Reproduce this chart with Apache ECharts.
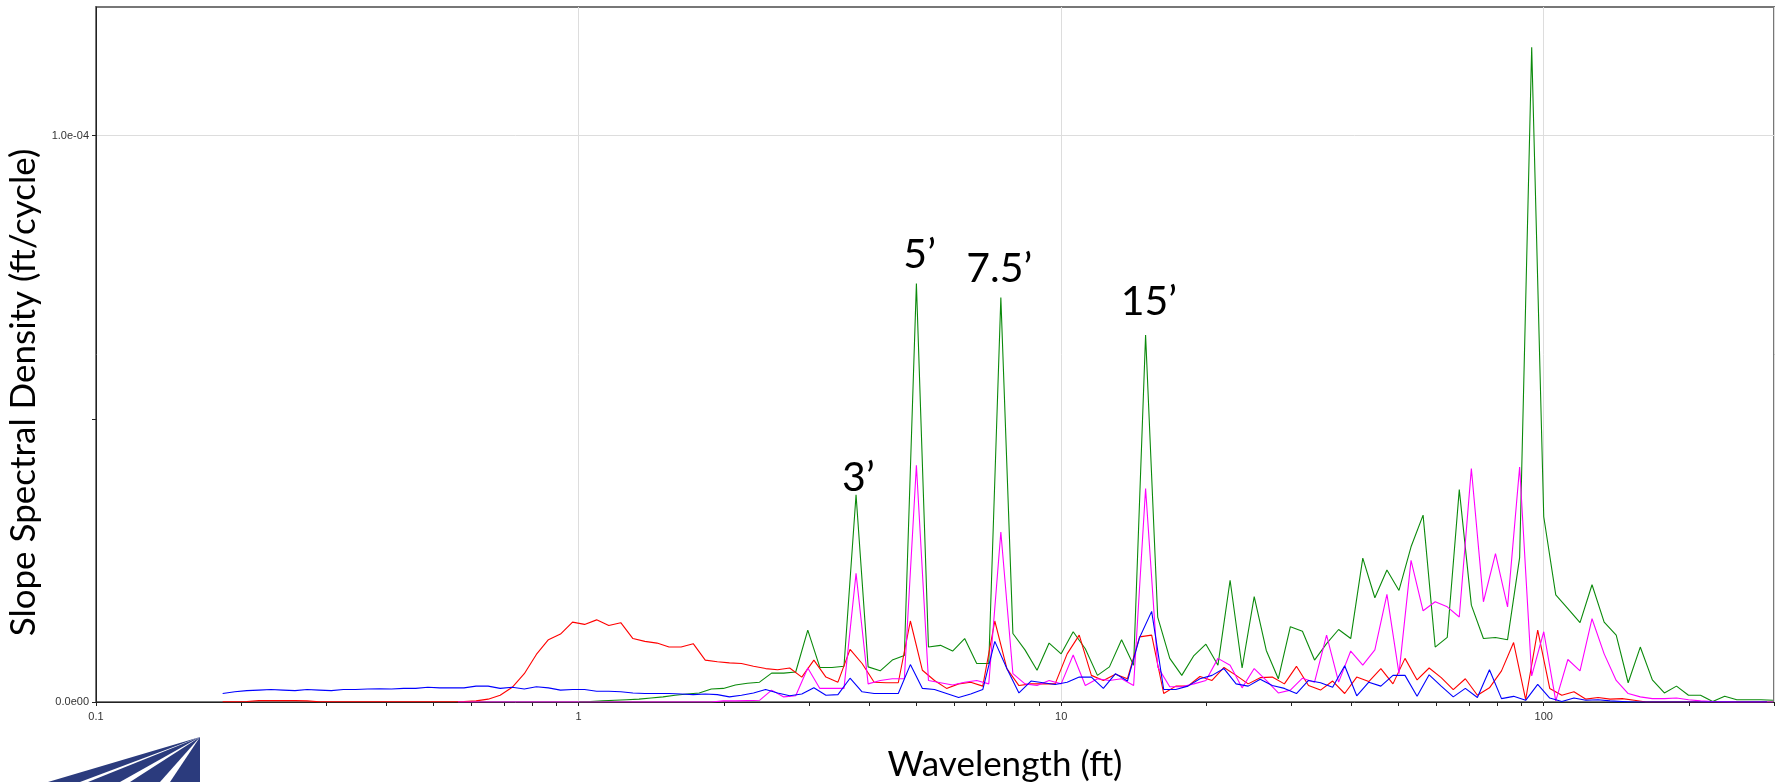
<!DOCTYPE html>
<html><head><meta charset="utf-8">
<script src="https://cdn.jsdelivr.net/npm/echarts@6/dist/echarts.min.js"></script>
<style>html,body{margin:0;padding:0;background:#fff}#c{width:1778px;height:782px}</style>
</head><body><div id="c"></div>
<script>
// Wavelengths (ft) of the red / blue spectra
const wavelengthRB = [
0.1830,0.1939,0.2054,0.2175,0.2304,0.2441,0.2585,0.2738,0.2901,0.3073,
0.3255,0.3447,0.3652,0.3868,0.4097,0.4340,0.4597,0.4870,0.5158,0.5464,
0.5788,0.6131,0.6494,0.6879,0.7286,0.7718,0.8175,0.8660,0.9173,0.9716,
1.029,1.090,1.155,1.223,1.296,1.372,1.454,1.540,1.631,1.728,
1.830,1.939,2.054,2.175,2.304,2.441,2.585,2.738,2.901,3.073,
3.255,3.447,3.652,3.868,4.097,4.340,4.597,4.870,5.158,5.464,
5.788,6.131,6.494,6.879,7.286,7.718,8.175,8.660,9.173,9.716,
10.29,10.90,11.55,12.23,12.96,13.72,14.54,15.40,16.31,17.28,
18.30,19.39,20.54,21.75,23.04,24.41,25.85,27.38,29.01,30.73,
32.55,34.47,36.52,38.68,40.97,43.40,45.97,48.70,51.58,54.64,
57.88,61.31,64.94,68.79,72.86,77.18,81.75,86.60,91.73,97.16,
102.9,109.0,115.5,122.3,129.6,137.2,145.4,154.0,163.1,172.8,
183.0,193.9,205.4,217.5,230.4,244.1,258.5,273.8,290.1];
// Wavelengths (ft) of the green / magenta spectra
const wavelengthGM = [
0.5623,0.5957,0.6310,0.6683,0.7079,0.7499,0.7943,0.8414,0.8913,0.9441,
1.000,1.059,1.122,1.189,1.259,1.334,1.413,1.496,1.585,1.679,
1.778,1.884,1.995,2.113,2.239,2.371,2.512,2.661,2.818,2.985,
3.162,3.350,3.548,3.758,3.981,4.217,4.467,4.732,5.012,5.309,
5.623,5.957,6.310,6.683,7.079,7.499,7.943,8.414,8.913,9.441,
10.00,10.59,11.22,11.89,12.59,13.34,14.13,14.96,15.85,16.79,
17.78,18.84,19.95,21.13,22.39,23.71,25.12,26.61,28.18,29.85,
31.62,33.50,35.48,37.58,39.81,42.17,44.67,47.32,50.12,53.09,
56.23,59.57,63.10,66.83,70.79,74.99,79.43,84.14,89.13,94.41,
100.0,105.9,112.2,118.9,125.9,133.4,141.3,149.6,158.5,167.9,
177.8,188.4,199.5,211.3,223.9,237.1,251.2,266.1,281.8,298.5];

// Slope spectral density, in units of 1e-6 ft/cycle
const red = [
0.05,0.05,0.1,0.25,0.25,0.25,0.25,0.2,0.05,
0.05,0.05,0.05,0.05,0.05,0.05,0.05,0.05,0.05,0.05,0.05,
0.1,0.2,0.5,1.2,2.6,5.0,8.4,11.0,12.0,14.1,
13.7,14.5,13.5,14.0,11.2,10.7,10.4,9.7,9.7,10.3,
7.4,7.1,6.9,6.8,6.3,5.9,5.7,6.0,4.4,7.4,
4.4,3.5,9.3,6.8,3.5,3.4,3.4,14.3,5.6,3.8,
2.4,3.2,3.5,2.8,14.3,5.9,2.9,3.2,3.2,3.2,
8.5,11.8,4.7,3.8,4.9,4.1,11.5,11.8,1.5,2.8,
2.8,4.5,3.8,6.1,4.7,3.2,4.3,4.4,3.2,6.3,
2.9,2.1,3.7,1.5,4.4,3.6,5.9,3.2,7.7,3.9,
6.0,4.3,2.2,4.1,1.2,2.5,5.5,10.5,0.4,12.7,
2.4,1.2,1.8,0.5,0.8,0.5,0.6,0.3,0,0,
0,0,0,0,0,0,0,0,0];
const blue = [
1.5,1.8,2.0,2.1,2.2,2.1,2.0,2.2,2.1,2.0,
2.2,2.2,2.3,2.35,2.3,2.4,2.4,2.6,2.5,2.5,
2.5,2.8,2.8,2.4,2.6,2.3,2.7,2.5,2.1,2.2,
2.2,1.9,1.9,1.8,1.6,1.5,1.5,1.5,1.4,1.3,
1.4,1.3,0.9,1.2,1.6,2.2,1.6,1.1,1.4,2.5,
1.2,1.3,4.2,1.8,1.5,1.5,1.5,6.6,2.4,2.2,
1.5,0.8,1.4,2.2,10.7,5.9,1.6,3.7,3.4,3.1,
3.5,4.4,4.4,2.4,5.0,3.7,11.4,16.0,2.2,2.2,
2.8,4.1,4.7,5.9,3.2,2.8,4.0,2.9,2.4,1.5,
3.8,3.4,2.6,6.4,1.1,3.5,2.8,4.7,4.7,1.0,
4.8,2.8,0.9,2.4,0.8,5.7,0.6,1.0,0.3,3.1,
0.7,0.1,0.7,0.3,0.4,0.2,0.1,0,0,0,
0,0,0,0,0,0,0,0,0];
// green starts at wavelengthGM[10] (1 ft)
const green = [
0.05,0.1,0.2,0.3,0.4,0.5,0.7,0.9,1.2,1.4,
1.6,2.3,2.4,3.0,3.3,3.5,5.1,5.1,5.3,12.7,
6.1,6.1,6.3,36.6,6.2,5.5,7.4,8.2,73.9,9.7,
10.0,9.0,11.2,6.8,6.8,71.4,12.1,9.2,5.6,10.4,
8.5,12.4,9.4,4.7,6.2,11.0,6.5,64.8,15.0,7.7,
4.7,8.2,10.2,6.5,21.5,6.0,18.6,9.1,4.1,13.3,
12.5,7.4,10.3,12.8,11.2,25.4,18.4,23.3,19.7,27.4,
33.0,9.7,11.4,37.5,17.1,11.2,11.4,11.0,25.5,115.6,
32.7,18.9,16.5,14.0,20.7,14.1,11.8,3.4,9.7,3.9,
1.6,2.8,1.2,1.2,0.1,1.0,0.4,0.4,0.4,0.3];
const magenta = [
0,0,0,0,0,0,0,0,0,0,
0,0,0,0,0,0,0,0,0,0,
0,0,0.2,0.2,0.25,0.3,2.1,0.9,1.1,6.0,
2.4,2.4,2.4,22.7,3.2,3.8,4.1,4.1,41.8,3.8,
3.4,3.0,3.5,3.8,3.2,30.0,5.0,3.2,2.9,3.8,
3.2,8.3,2.9,4.1,3.8,4.1,2.9,37.7,6.2,2.7,
2.7,3.2,3.8,7.7,6.5,2.5,5.9,3.8,1.6,2.1,
4.2,3.5,11.8,3.5,9.0,6.5,9.2,19.0,5.0,25.0,
16.1,17.7,16.8,15.0,41.2,17.7,26.2,16.8,41.5,4.6,
12.4,0.2,7.5,5.5,14.7,8.5,3.8,1.5,0.9,0.6,
0.6,0.7,0.4,0.2,0.1,0.05,0,0,0,0];

const xTickValues = [0.1, 1, 10, 100];
const xTickText = ['0.1', '1', '10', '100'];
const yTickValues = [0, 100];
const yTickText = ['0.0e00', '1.0e-04'];

const annText = ['3\u2019', '5\u2019', '7.5\u2019', '15\u2019'];
const annX = [3.80, 5.09, 7.44, 15.2];
const annY = [39.6, 79.0, 76.5, 70.7];

function pairs(xs, ys, offset) { return ys.map(function (v, i) { return [xs[i + offset], v]; }); }

const chart = echarts.init(document.getElementById('c'), null, {renderer: 'canvas'});
const tickFont = {fontFamily: 'Liberation Sans', fontSize: 11, color: '#333'};
function lineSeries(name, color, data, z) {
  return {name: name, type: 'line', data: data, symbol: 'none', z: z,
    lineStyle: {color: color, width: 1.1}, itemStyle: {color: color}, animation: false};
}
const greenSeries = lineSeries('green', '#0b8a0b', pairs(wavelengthGM, green, 10), 2);
greenSeries.markPoint = {
  symbol: 'circle', symbolSize: 1, silent: true, animation: false,
  itemStyle: {color: 'rgba(0,0,0,0)'},
  label: {show: true, position: 'inside', formatter: function (p) { return p.name; },
    fontFamily: 'Lato', fontSize: 41, color: '#000'},
  data: annText.map(function (t, i) { return {name: t, coord: [annX[i], annY[i]]}; })
};

const option = {
  backgroundColor: '#ffffff',
  animation: false,
  grid: {left: 96, right: 4, top: 7, bottom: 80, containLabel: false, outerBoundsMode: 'none',
    show: true, borderColor: '#777', borderWidth: 2, backgroundColor: 'transparent'},
  xAxis: {
    type: 'log', logBase: 10, min: 0.1, max: 300,
    name: 'Wavelength (ft)', nameLocation: 'middle', nameGap: 45,
    nameTextStyle: {fontFamily: 'Lato', fontSize: 35, color: '#000', padding: [0, 0, 0, 140]},
    axisLine: {show: true, onZero: false, lineStyle: {color: '#222', width: 1}},
    axisTick: {show: true, length: 4, lineStyle: {color: '#222'}},
    minorTick: {show: true, splitNumber: 9, length: 4, lineStyle: {color: '#222'}},
    minorSplitLine: {show: false},
    splitLine: {show: true, lineStyle: {color: '#dddddd', width: 1}},
    axisLabel: Object.assign({margin: 9, formatter: function (v) {
      for (let i = 0; i < xTickValues.length; i++) {
        if (Math.abs(v - xTickValues[i]) < xTickValues[i] * 1e-6) return xTickText[i];
      }
      return '';
    }}, tickFont)
  },
  yAxis: {
    type: 'value', min: 0, max: 122.7, interval: 50,
    name: 'Slope Spectral Density (ft/cycle)', nameLocation: 'middle', nameGap: 47, nameRotate: 90,
    nameTextStyle: {fontFamily: 'Lato', fontSize: 35, color: '#000', padding: [0, 76, 0, 0]},
    axisLine: {show: true, lineStyle: {color: '#222', width: 1}},
    axisTick: {show: true, length: 4, lineStyle: {color: '#222'}},
    splitLine: {show: true, lineStyle: {color: ['#dddddd', 'rgba(0,0,0,0)'], width: 1}},
    axisLabel: Object.assign({margin: 7, showMaxLabel: false, formatter: function (v) {
      const i = yTickValues.indexOf(v);
      return i >= 0 ? yTickText[i] : '';
    }}, tickFont)
  },
  series: [
    greenSeries,
    lineSeries('red', '#ff0000', pairs(wavelengthRB, red, 0), 3),
    lineSeries('magenta', '#ff00ff', pairs(wavelengthGM, magenta, 0), 4),
    lineSeries('blue', '#0000ff', pairs(wavelengthRB, blue, 0), 5)
  ],
  graphic: [{
    type: 'group', silent: true,
    children: [[48, 80], [88, 120], [130, 160], [170, 200]].map(function (s) {
      const ax = 200, ay = 737, by = 782, ey = 800, k = (ey - ay) / (by - ay);
      return {type: 'polygon', shape: {points: [[ax, ay], [ax + (s[0] - ax) * k, ey], [ax + (s[1] - ax) * k, ey]]},
        style: {fill: '#2b3b7d'}};
    })
  }]
};
chart.setOption(option);
</script></body></html>
